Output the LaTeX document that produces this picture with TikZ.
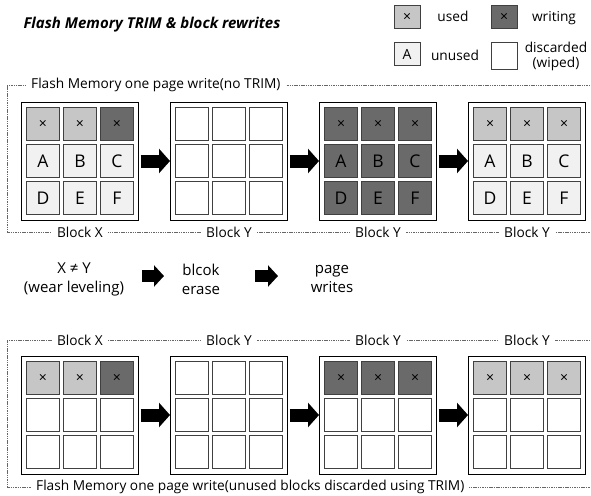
\documentclass[tikz,border=0pt]{standalone}
\usepackage{fontspec}
\setmainfont{Open Sans}
\usepackage{xcolor}
\usepackage{tikz}
\usetikzlibrary{positioning, arrows.meta}
\definecolor{usedgray}{HTML}{C6C6C6}
\definecolor{writegray}{HTML}{6A6A6A}
\definecolor{unusedgray}{HTML}{F1F1F1}

% small cross marking a page that holds data
\newcommand{\xm}{{\fontsize{14}{14}\selectfont ×}}

% one flash block: name, placement, then the three rows of pages (kind/text)
\newcommand{\flashblock}[5]{%
  \node[blk, #2] (#1) {};
  \foreach \row [count=\r] in {{#3},{#4},{#5}}
    \foreach \k/\t [count=\c] in \row
      \node[cell, \k] (#1-\r-\c) at ([shift={({(\c-2)*37},{(\r-2)*37})}]#1.center) {\t};
}

\begin{document}
\begin{tikzpicture}[x=1pt, y=-1pt,
    blk/.style={rectangle, draw, line width=1pt, minimum width=117pt, minimum height=118pt, inner sep=0pt},
    cell/.style={rectangle, draw=black!75, line width=1pt, minimum size=33pt, inner sep=0pt, font=\fontsize{17.5}{17.5}\selectfont},
    pgused/.style={fill=usedgray},
    pgwrite/.style={fill=writegray},
    pgunused/.style={fill=unusedgray},
    pgwiped/.style={fill=white},
    lgd/.style={minimum width=26pt, minimum height=23pt, font=\fontsize{14}{14}\selectfont},
    lgdtext/.style={font=\fontsize{13.7}{15}\selectfont, align=center},
    frame/.style={draw=black!60, line width=0.5pt, dash pattern=on 1.5pt off 0.8pt},
    lbl/.style={fill=white, inner xsep=5pt, inner ysep=1pt, font=\fontsize{13.7}{15}\selectfont},
    midtxt/.style={align=center, font=\fontsize{15}{19}\selectfont},
    bigarrow/.style={line width=13pt, -{Triangle[width=24pt, length=11pt]}, shorten <=1.5pt},
    steparrow/.style={line width=12pt, -{Triangle[width=21pt, length=10pt]}}]
  \useasboundingbox (0,0) rectangle (591,495);

  \node[anchor=west, font=\bfseries\itshape\fontsize{15}{17}\selectfont] (title) at (20,25) {Flash Memory TRIM \& block rewrites};

  % legend
  \node[cell, lgd, pgused] (lgused) at (407,17) {\xm};
  \node[lgdtext] (lgusedtxt) at (453,16) {used};
  \node[cell, lgd, pgwrite] (lgwrite) at (504,17) {\xm};
  \node[lgdtext] (lgwritetxt) at (554,18) {writing};
  \node[cell, lgd, pgunused] (lgunused) at (407,54) {A};
  \node[lgdtext] (lgunusedtxt) at (455,55) {unused};
  \node[cell, lgd, pgwiped, minimum height=26pt] (lgwiped) at (504,56) {};
  \node[lgdtext] (lgwipedtxt) at (556,56) {discarded\\(wiped)};

  % one page write without TRIM
  \draw[frame] (590,85) -- (7,85) -- (7,232) -- (590,232);
  \node[lbl, anchor=west] (toptitle) at (26,85) {Flash Memory one page write(no TRIM)};
  \flashblock{tX}{at={(80,161)}}{pgused/\xm, pgused/\xm, pgwrite/\xm}{pgunused/A, pgunused/B, pgunused/C}{pgunused/D, pgunused/E, pgunused/F}
  \flashblock{tY1}{right=31pt of tX}{pgwiped/{}, pgwiped/{}, pgwiped/{}}{pgwiped/{}, pgwiped/{}, pgwiped/{}}{pgwiped/{}, pgwiped/{}, pgwiped/{}}
  \flashblock{tY2}{right=31pt of tY1}{pgwrite/\xm, pgwrite/\xm, pgwrite/\xm}{pgwrite/A, pgwrite/B, pgwrite/C}{pgwrite/D, pgwrite/E, pgwrite/F}
  \flashblock{tY3}{right=31pt of tY2}{pgused/\xm, pgused/\xm, pgused/\xm}{pgunused/A, pgunused/B, pgunused/C}{pgunused/D, pgunused/E, pgunused/F}
  \foreach \a/\b in {tX/tY1, tY1/tY2, tY2/tY3}
    \draw[bigarrow] (\a) -- (\b);
  \foreach \n/\id in {tX/X, tY1/Y, tY2/Y, tY3/Y}
    \node[lbl] (\n-name) at (\n |- 0,232) {Block \id};

  % steps
  \node[midtxt] (wear) at (74,279) {X ≠ Y\\(wear leveling)};
  \node[midtxt] (erase) at (201,279) {blcok\\erase};
  \node[midtxt] (writes) at (332,279) {page\\writes};
  \draw[steparrow] ([xshift=68pt, yshift=3pt]wear.center) -- ([xshift=-37pt, yshift=3pt]erase.center);
  \draw[steparrow] ([xshift=54pt, yshift=3pt]erase.center) -- ([xshift=-54pt, yshift=3pt]writes.center);

  % one page write with TRIM
  \draw[frame] (590,340) -- (7,340) -- (7,487) -- (590,487);
  \node[lbl, anchor=west] (bottitle) at (31,487) {Flash Memory one page write(unused blocks discarded using TRIM)};
  \flashblock{bX}{at={(80,415)}}{pgused/\xm, pgused/\xm, pgwrite/\xm}{pgwiped/{}, pgwiped/{}, pgwiped/{}}{pgwiped/{}, pgwiped/{}, pgwiped/{}}
  \flashblock{bY1}{right=31pt of bX}{pgwiped/{}, pgwiped/{}, pgwiped/{}}{pgwiped/{}, pgwiped/{}, pgwiped/{}}{pgwiped/{}, pgwiped/{}, pgwiped/{}}
  \flashblock{bY2}{right=31pt of bY1}{pgwrite/\xm, pgwrite/\xm, pgwrite/\xm}{pgwiped/{}, pgwiped/{}, pgwiped/{}}{pgwiped/{}, pgwiped/{}, pgwiped/{}}
  \flashblock{bY3}{right=31pt of bY2}{pgused/\xm, pgused/\xm, pgused/\xm}{pgwiped/{}, pgwiped/{}, pgwiped/{}}{pgwiped/{}, pgwiped/{}, pgwiped/{}}
  \foreach \a/\b in {bX/bY1, bY1/bY2, bY2/bY3}
    \draw[bigarrow] (\a) -- (\b);
  \foreach \n/\id in {bX/X, bY1/Y, bY2/Y, bY3/Y}
    \node[lbl] (\n-name) at (\n |- 0,340) {Block \id};
\end{tikzpicture}
\end{document}
